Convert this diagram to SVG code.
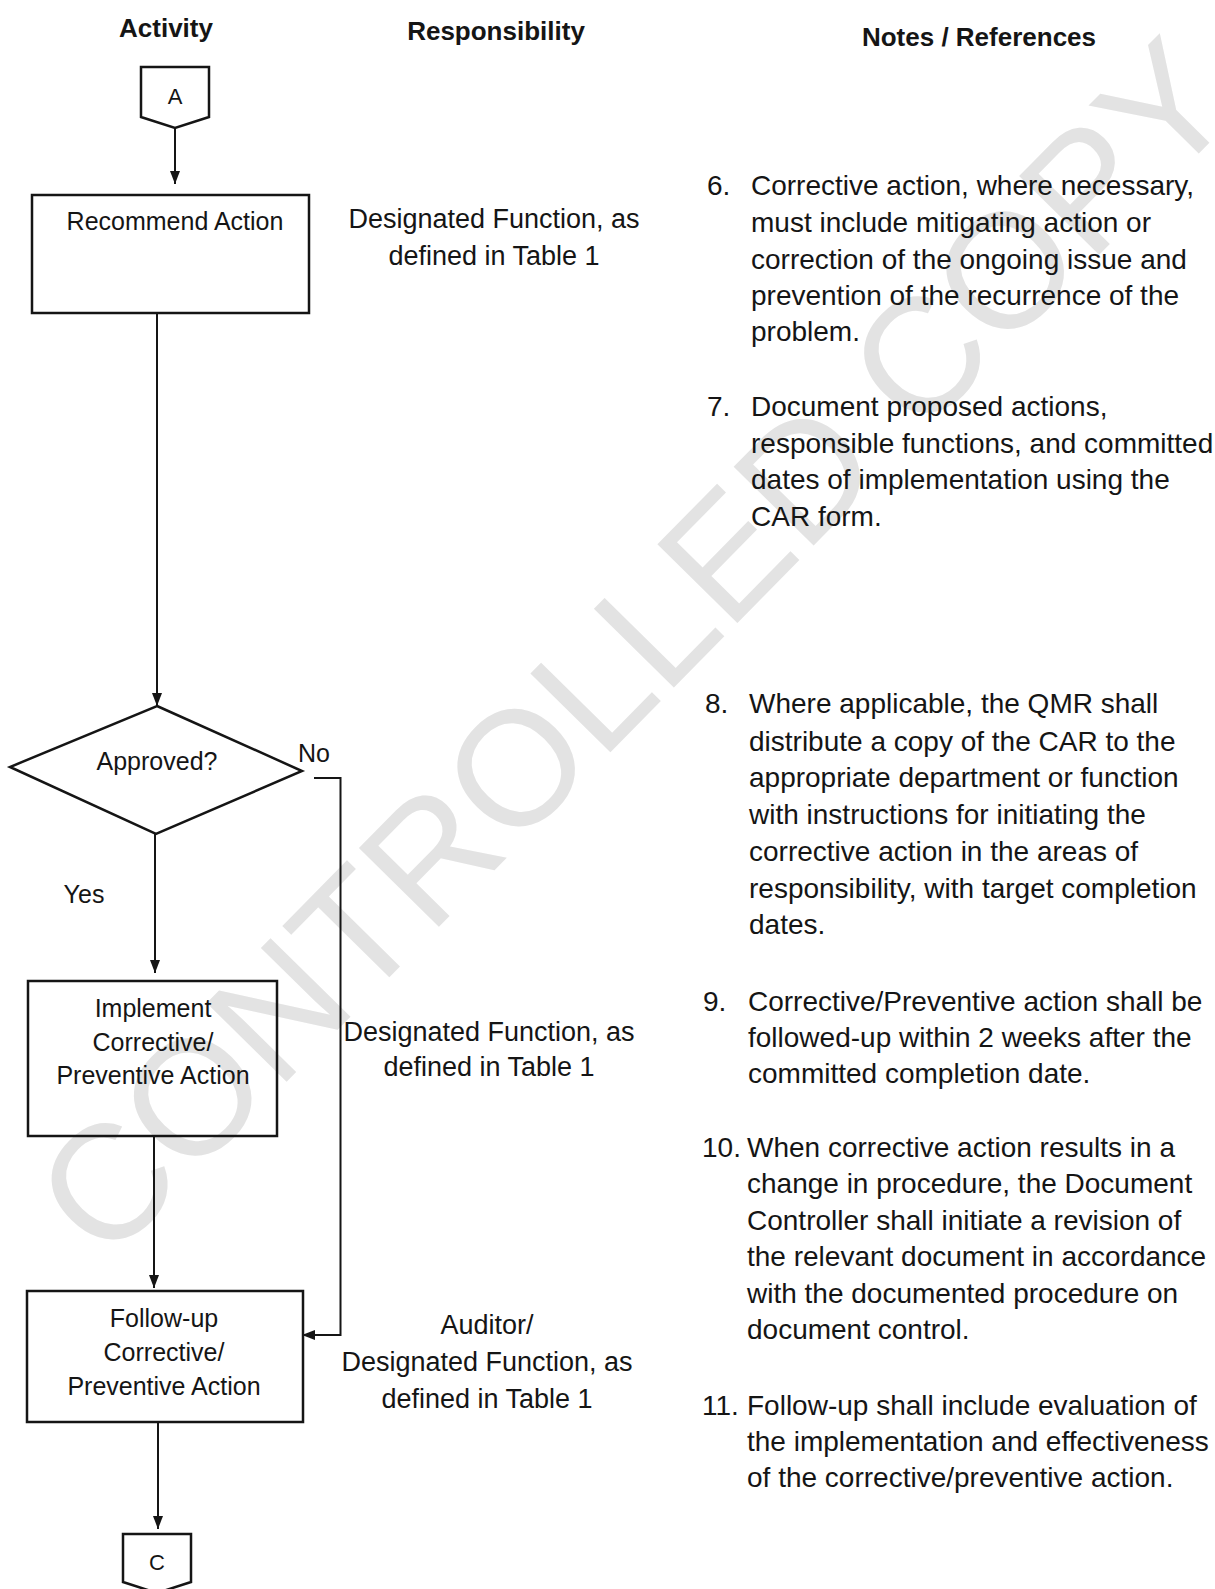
<svg xmlns="http://www.w3.org/2000/svg" width="1215" height="1589" viewBox="0 0 1215 1589">
<style>
.t{font-family:'Liberation Sans',Arial,sans-serif;fill:#151515}
.h{font-size:26px;font-weight:bold;text-anchor:middle}
.f{font-size:25px;text-anchor:middle}
.k{font-size:22px;text-anchor:middle}
.r{font-size:27px;text-anchor:middle}
.n{font-size:28px}
.shape{fill:none;stroke:#151515;stroke-width:2.5}
.conn{fill:none;stroke:#151515;stroke-width:2}
.wm{font-family:'Liberation Sans',Arial,sans-serif;font-size:163px;fill:#e3e3e3;text-anchor:middle}
</style>
<defs>
<marker id="arr" markerUnits="userSpaceOnUse" markerWidth="13" markerHeight="10" refX="13" refY="5" orient="auto">
<path d="M0,0 L13,5 L0,10 z" fill="#151515"/>
</marker>
</defs>
<rect width="1215" height="1589" fill="#ffffff"/>
<g id="watermark">
<text class="wm" transform="translate(632,646) rotate(-45.5)" x="0" y="59">CONTROLLED COPY</text>
</g>
<g id="headers">
<text class="t h" x="166" y="37">Activity</text>
<text class="t h" x="496" y="40">Responsibility</text>
<text class="t h" x="979" y="46">Notes / References</text>
</g>
<g id="connectors">
<line class="conn" x1="175" y1="128" x2="175" y2="184" marker-end="url(#arr)"/>
<line class="conn" x1="157" y1="313" x2="157" y2="706" marker-end="url(#arr)"/>
<line class="conn" x1="155" y1="834" x2="155" y2="973" marker-end="url(#arr)"/>
<polyline class="conn" points="314,778 340.5,778 340.5,1335 302,1335" marker-end="url(#arr)"/>
<line class="conn" x1="154" y1="1136" x2="154" y2="1288" marker-end="url(#arr)"/>
<line class="conn" x1="158" y1="1422" x2="158" y2="1529" marker-end="url(#arr)"/>
<text class="t f" x="314" y="762">No</text>
<text class="t f" x="84" y="903">Yes</text>
</g>
<g id="nodeA">
<path class="shape" d="M141,67 L209,67 L209,117 L175,128 L141,117 Z"/>
<text class="t k" x="175" y="104">A</text>
</g>
<g id="recommend">
<rect class="shape" x="32" y="195" width="277" height="118"/>
<text class="t f" x="175" y="230">Recommend Action</text>
</g>
<g id="approved">
<path class="shape" d="M157,706 L302,771 L156,834 L10,767 Z"/>
<text class="t f" x="157" y="770">Approved?</text>
</g>
<g id="implement">
<rect class="shape" x="28" y="981" width="249" height="155"/>
<text class="t f" x="153" y="1017">Implement</text>
<text class="t f" x="153" y="1051">Corrective/</text>
<text class="t f" x="153" y="1084">Preventive Action</text>
</g>
<g id="followup">
<rect class="shape" x="27" y="1291" width="276" height="131"/>
<text class="t f" x="164" y="1327">Follow-up</text>
<text class="t f" x="164" y="1361">Corrective/</text>
<text class="t f" x="164" y="1395">Preventive Action</text>
</g>
<g id="nodeC">
<path class="shape" d="M123,1534 L191,1534 L191,1582 L157,1593 L123,1582 Z"/>
<text class="t k" x="157" y="1570">C</text>
</g>
<g id="responsibility">
<text class="t r" x="494" y="228">Designated Function, as</text>
<text class="t r" x="494" y="265">defined in Table 1</text>
<text class="t r" x="489" y="1041">Designated Function, as</text>
<text class="t r" x="489" y="1076">defined in Table 1</text>
<text class="t r" x="487" y="1334">Auditor/</text>
<text class="t r" x="487" y="1371">Designated Function, as</text>
<text class="t r" x="487" y="1408">defined in Table 1</text>
</g>
<g id="notes">
<text class="t n" x="707" y="195">6.</text>
<text class="t n" x="751" y="195">Corrective action, where necessary,</text>
<text class="t n" x="751" y="232">must include mitigating action or</text>
<text class="t n" x="751" y="269">correction of the ongoing issue and</text>
<text class="t n" x="751" y="305">prevention of the recurrence of the</text>
<text class="t n" x="751" y="341">problem.</text>
<text class="t n" x="707" y="416">7.</text>
<text class="t n" x="751" y="416">Document proposed actions,</text>
<text class="t n" x="751" y="453">responsible functions, and committed</text>
<text class="t n" x="751" y="489">dates of implementation using the</text>
<text class="t n" x="751" y="526">CAR form.</text>
<text class="t n" x="705" y="713">8.</text>
<text class="t n" x="749" y="713">Where applicable, the QMR shall</text>
<text class="t n" x="749" y="751">distribute a copy of the CAR to the</text>
<text class="t n" x="749" y="787">appropriate department or function</text>
<text class="t n" x="749" y="824">with instructions for initiating the</text>
<text class="t n" x="749" y="861">corrective action in the areas of</text>
<text class="t n" x="749" y="898">responsibility, with target completion</text>
<text class="t n" x="749" y="934">dates.</text>
<text class="t n" x="703" y="1011">9.</text>
<text class="t n" x="748" y="1011">Corrective/Preventive action shall be</text>
<text class="t n" x="748" y="1047">followed-up within 2 weeks after the</text>
<text class="t n" x="748" y="1083">committed completion date.</text>
<text class="t n" x="702" y="1157">10.</text>
<text class="t n" x="747" y="1157">When corrective action results in a</text>
<text class="t n" x="747" y="1193">change in procedure, the Document</text>
<text class="t n" x="747" y="1230">Controller shall initiate a revision of</text>
<text class="t n" x="747" y="1266">the relevant document in accordance</text>
<text class="t n" x="747" y="1303">with the documented procedure on</text>
<text class="t n" x="747" y="1339">document control.</text>
<text class="t n" x="702" y="1415">11.</text>
<text class="t n" x="747" y="1415">Follow-up shall include evaluation of</text>
<text class="t n" x="747" y="1451">the implementation and effectiveness</text>
<text class="t n" x="747" y="1487">of the corrective/preventive action.</text>
</g>
</svg>
